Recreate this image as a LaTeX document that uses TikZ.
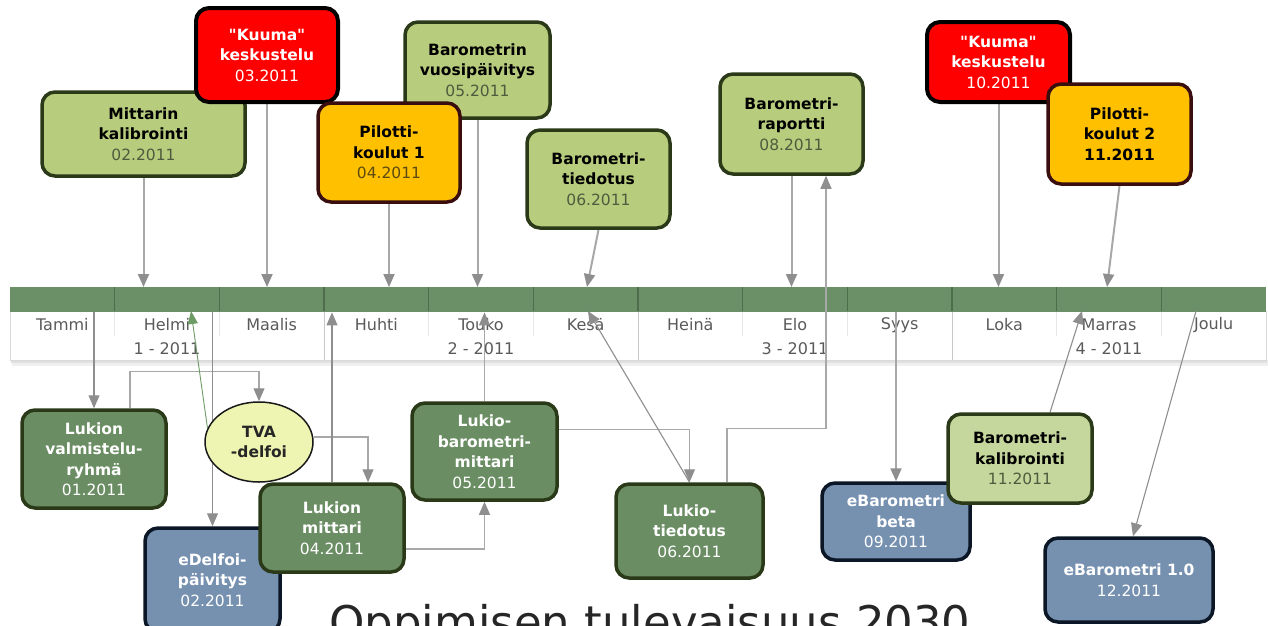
\documentclass[tikz,border=0pt]{standalone}
\usepackage{fontspec}
\setmainfont{DejaVu Sans}
\setmonofont{DejaVu Sans}
\usetikzlibrary{arrows.meta,calc,shapes.geometric}
\definecolor{bargreen}{HTML}{6B8F66}
\definecolor{barsep}{HTML}{4E6E4B}
\definecolor{lgfill}{HTML}{B8CC7D}
\definecolor{lgfilltwo}{HTML}{C5D79C}
\definecolor{dgfill}{HTML}{6A8D63}
\definecolor{gborder}{HTML}{2A3917}
\definecolor{bfill}{HTML}{7690B0}
\definecolor{bborder}{HTML}{0B1726}
\definecolor{ofill}{HTML}{FFC000}
\definecolor{oborder}{HTML}{3A0E0E}
\definecolor{elfill}{HTML}{EEF5B2}
\definecolor{conngray}{HTML}{8E8E8E}
\definecolor{connlight}{HTML}{A8A8A8}
\definecolor{tvagreen}{HTML}{6C9B64}
\definecolor{dategray}{HTML}{4F5B3E}
\definecolor{dateorange}{HTML}{5C4A10}
\definecolor{monthgray}{HTML}{5A5A5A}
\pgfdeclarelayer{tl}
\pgfdeclarelayer{conn}
\pgfsetlayers{tl,conn,main}
\newcommand{\dtd}[1]{{\mdseries\color{dategray}#1}}
\newcommand{\dtw}[1]{{\mdseries\color{white}#1}}
\newcommand{\dto}[1]{{\mdseries\color{dateorange}#1}}
\newcommand{\sq}{{\ttfamily\char34}}
\tikzset{
  box/.style={draw, rounded corners=13pt, line width=3.5pt, align=center, inner sep=0pt,
    font=\fontsize{15.5}{20.5}\selectfont\bfseries},
  lgbox/.style={box, fill=lgfill, draw=gborder, text=black},
  lgboxtwo/.style={box, fill=lgfilltwo, draw=gborder, text=black},
  dgbox/.style={box, fill=dgfill, draw=gborder, text=white},
  bbox/.style={box, fill=bfill, draw=bborder, text=white},
  rbox/.style={box, fill=red, draw=black, line width=4pt, text=white},
  obox/.style={box, fill=ofill, draw=oborder, text=black},
  conn/.style={draw=connlight, line width=2pt, -{Triangle[length=13pt,width=11pt,fill=conngray,color=conngray]}},
  connthin/.style={draw=connlight, line width=1.1pt, -{Triangle[length=13pt,width=11pt,fill=conngray,color=conngray]}},
  connplain/.style={draw=conngray, line width=1.1pt, -{Triangle[length=13pt,width=11pt,fill=conngray,color=conngray]}},
  conngreen/.style={draw=tvagreen, line width=0.9pt, -{Triangle[length=13pt,width=10pt,fill=tvagreen,color=tvagreen]}},
  monthlbl/.style={font=\fontsize{16}{19}\selectfont, text=monthgray, inner sep=0pt},
  barsepline/.style={draw=barsep, line width=1.4pt},
  whitesep/.style={draw=black!9, line width=1pt},
  quartsep/.style={draw=black!22, line width=1pt}
}
\begin{document}
\begin{tikzpicture}[x=1pt,y=-1pt]
\useasboundingbox (0,0) rectangle (1268,625);
\clip (0,0) rectangle (1268,625);

% ---------- timeline ----------
\begin{pgfonlayer}{tl}
  \fill[black!6] (12,360) rectangle (1268,366);
  \fill[black!12] (11,360) rectangle (1267,363);
  \node[fill=white, draw=black!15, line width=0.8pt, minimum width=1256pt, minimum height=49pt, inner sep=0pt, anchor=north west] (area) at (10,311) {};
  \node[fill=bargreen, minimum width=1256pt, minimum height=25pt, inner sep=0pt, anchor=north west] (bar) at (10,287) {};
  \foreach \i in {1,...,11}
    \draw[barsepline] ({10+104.667*\i},287) -- ({10+104.667*\i},311);
  \foreach \i in {1,2,4,5,7,8,10,11}
    \draw[whitesep] ({10+104.667*\i},312) -- ({10+104.667*\i},336);
  \foreach \i in {3,6,9}
    \draw[quartsep] ({10+104.667*\i},312) -- ({10+104.667*\i},360);
  \foreach \m [count=\i from 0] in {Tammi,Helmi,Maalis,Huhti,Touko,Kesä,Heinä,Elo,Syys,Loka,Marras,Joulu}
    \node[monthlbl] (m\i) at ({10+104.667*(\i+0.5)},325) {\m};
  \foreach \q [count=\i from 0] in {1,2,3,4}
    \node[monthlbl] (q\i) at ({10+314*\i+157},349) {\q\ - 2011};
\end{pgfonlayer}

% ---------- top row ----------
\node[lgbox, minimum width=203pt, minimum height=84pt] (mk) at (143.5,134) {Mittarin\\kalibrointi\\\dtd{02.2011}};
\node[rbox, minimum width=142pt, minimum height=94pt] (kk1) at (267,55) {\sq Kuuma\sq\\keskustelu\\\dtw{03.2011}};
\node[lgbox, minimum width=145pt, minimum height=96pt] (bv) at (477.5,70) {Barometrin\\vuosipäivitys\\\dtd{05.2011}};
\node[obox, minimum width=142pt, minimum height=99pt] (pk1) at (389,152.5) {Pilotti-\\koulut 1\\\dto{04.2011}};
\node[lgbox, minimum width=143pt, minimum height=98pt] (bt) at (598.5,179) {Barometri-\\tiedotus\\\dtd{06.2011}};
\node[lgbox, minimum width=143pt, minimum height=100pt] (br) at (791.5,124) {Barometri-\\raportti\\\dtd{08.2011}};
\node[rbox, minimum width=143pt, minimum height=80pt] (kk2) at (998.5,62) {\sq Kuuma\sq\\keskustelu\\\dtw{10.2011}};
\node[obox, minimum width=143pt, minimum height=100pt] (pk2) at (1119.5,134) {Pilotti-\\koulut 2\\11.2011};

% ---------- bottom row ----------
\node[dgbox, minimum width=144pt, minimum height=98pt] (lvr) at (94,459) {Lukion\\valmistelu-\\ryhmä\\\dtw{01.2011}};
\node[ellipse, draw=black!90, line width=1.5pt, fill=elfill, minimum width=108pt, minimum height=80pt, inner sep=0pt, align=center, font=\fontsize{15.5}{20.5}\selectfont\bfseries, text=black!85] (tva) at (259,442) {TVA\\-delfoi};
\node[bbox, minimum width=135pt, minimum height=104pt] (ed) at (212.5,580) {eDelfoi-\\päivitys\\\dtw{02.2011}};
\node[dgbox, minimum width=144pt, minimum height=88pt] (lm) at (332,528) {Lukion\\mittari\\\dtw{04.2011}};
\node[dgbox, minimum width=145pt, minimum height=97pt] (lbm) at (484.5,451.5) {Lukio-\\barometri-\\mittari\\\dtw{05.2011}};
\node[dgbox, minimum width=147pt, minimum height=94pt] (lt) at (689.5,531) {Lukio-\\tiedotus\\\dtw{06.2011}};
\node[bbox, minimum width=148pt, minimum height=77pt] (eb) at (896,521.5) {eBarometri\\beta\\\dtw{09.2011}};
\node[lgboxtwo, minimum width=144pt, minimum height=89pt] (bk) at (1020,458.5) {Barometri-\\kalibrointi\\\dtd{11.2011}};
\node[bbox, minimum width=168pt, minimum height=84pt] (eb1) at (1129,580) {eBarometri 1.0\\\dtw{12.2011}};

% ---------- title ----------
\node[anchor=base, font=\fontsize{45}{54}\selectfont, text=black!85, inner sep=0pt] (title) at (650,638) {Oppimisen tulevaisuus 2030};

% ---------- connectors ----------
\coordinate (pbt) at (587,287);
\coordinate (ppk2) at (1107,287);
\coordinate (pkesa) at (588,311);
\coordinate (ptva) at (191,311);
\coordinate (pbk) at (1082,311);
\coordinate (peb1) at (1196,311);
\begin{pgfonlayer}{conn}
  \draw[conn] (mk.south) -- (mk.south |- bar.north);
  \draw[conn] (kk1.south) -- (kk1.south |- bar.north);
  \draw[conn] (pk1.south) -- (pk1.south |- bar.north);
  \draw[conn] (bv.south) -- (bv.south |- bar.north);
  \draw[conn] (bt.south) -- (pbt);
  \draw[conn] (br.south) -- (br.south |- bar.north);
  \draw[conn] (kk2.south) -- (kk2.south |- bar.north);
  \draw[conn] (pk2.south) -- (ppk2);

  \draw[connplain] (lvr.north |- bar.south) -- (lvr.north);
  \draw[connthin] ([xshift=36pt]lvr.north) -- ++(0,-37) -| (tva.north);
  \draw[conngreen] (tva.165) -- (ptva);
  \draw[connplain] (ed.north |- bar.south) -- (ed.north);
  \draw[connthin] ([yshift=5pt]tva.east) -| ([xshift=36pt]lm.north);
  \draw[connplain] (lm.north) -- (lm.north |- bar.south);
  \draw[connthin] ([yshift=-21pt]lm.east) -| (lbm.south);
  \draw[connthin] (lbm.north) -- (lbm.north |- bar.south);
  \draw[connthin] ([yshift=22pt]lbm.east) -| (lt.north);
  \draw[connplain] (lt.north) -- (pkesa);
  \draw[connthin] ([xshift=37.5pt]lt.north) -- ++(0,-54) -| ([xshift=34.5pt]br.south);
  \draw[conn] (eb.north |- bar.south) -- (eb.north);
  \draw[connplain] ([xshift=30pt]bk.north) -- (pbk);
  \draw[connplain] (peb1) -- ([xshift=4pt]eb1.north);
\end{pgfonlayer}
\end{tikzpicture}
\end{document}
